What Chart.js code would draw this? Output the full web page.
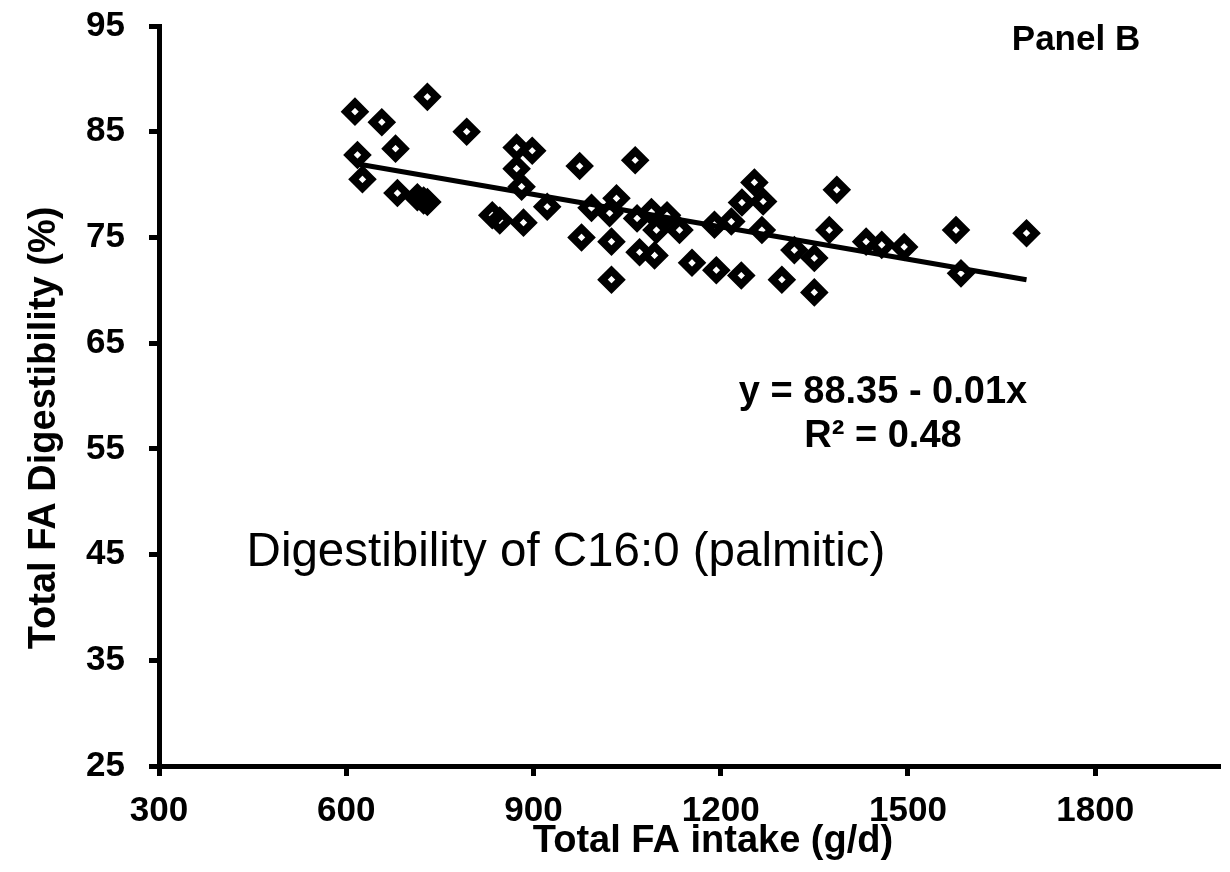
<!DOCTYPE html>
<html>
<head>
<meta charset="utf-8">
<script src="https://cdn.jsdelivr.net/npm/chart.js@4.4.1/dist/chart.umd.min.js"></script>
<style>
  html, body { margin: 0; padding: 0; background: #fff; }
  #wrap { width: 1230px; height: 872px; }
</style>
</head>
<body>
<div id="wrap"><canvas id="chart" width="1230" height="872"></canvas></div>
<script>
// values
const intake = [614, 657, 730, 618, 679, 626, 793, 682, 714, 730, 724, 873, 898, 873, 881,
  834, 846, 884, 922, 974, 977, 1063, 993, 1033, 1022, 1025, 1025, 1066, 1089, 1114,
  1097, 1134, 1070, 1094, 1154, 1193, 1233, 1190, 1217, 1254, 1234, 1268, 1266, 1318,
  1350, 1298, 1350, 1386, 1374, 1433, 1458, 1494, 1577, 1585, 1690];
const digest = [86.9, 85.9, 88.3, 82.8, 83.4, 80.5, 85.0, 79.2, 78.8, 78.35, 78.5, 83.5, 83.2, 81.5, 79.8,
  77.1, 76.6, 76.4, 77.9, 81.75, 75.0, 82.3, 77.8, 78.7, 77.3, 74.6, 71.0, 76.8, 77.4, 77.1,
  75.7, 75.7, 73.6, 73.3, 72.6, 71.9, 71.4, 76.2, 76.5, 80.2, 78.3, 78.4, 75.7, 73.8,
  73.05, 71.0, 69.8, 79.5, 75.7, 74.6, 74.3, 74.1, 75.7, 71.6, 75.4];

// fitted line end points
const trendX = [614, 1690];
const trendY = [82.0, 71.0];

const xTicks = [300, 600, 900, 1200, 1500, 1800];
const yTicks = [25, 35, 45, 55, 65, 75, 85, 95];

const xTitle = 'Total FA intake (g/d)';
const yTitle = 'Total FA Digestibility (%)';
const panelLabel = 'Panel B';
const eqLines = ['y = 88.35 - 0.01x', 'R² = 0.48'];
const caption = 'Digestibility of C16:0 (palmitic)';

const fam = '"Liberation Sans", Arial, sans-serif';

const textPlugin = {
  id: 'texts',
  afterDraw(chart) {
    const ctx = chart.ctx;
    ctx.save();
    ctx.fillStyle = '#000';
    ctx.textAlign = 'center';
    ctx.textBaseline = 'middle';
    ctx.font = 'bold 38px ' + fam;
    ctx.fillText(xTitle, 713, 842);
    ctx.fillText(eqLines[0], 883, 393);
    ctx.fillText(eqLines[1], 883, 437);
    ctx.font = 'bold 35px ' + fam;
    ctx.fillText(panelLabel, 1076, 40);
    ctx.font = '47.5px ' + fam;
    ctx.fillText(caption, 566, 553);
    ctx.translate(45, 428);
    ctx.rotate(-Math.PI / 2);
    ctx.font = 'bold 38px ' + fam;
    ctx.fillText(yTitle, 0, 0);
    ctx.restore();
  }
};

const axisCommon = {
  grid: { drawOnChartArea: false, tickLength: 10, tickWidth: 5, tickColor: '#000' },
  border: { display: true, width: 5, color: '#000' }
};
const tickFont = { family: fam, size: 35, weight: 'bold' };

new Chart(document.getElementById('chart').getContext('2d'), {
  data: {
    datasets: [
      {
        type: 'scatter',
        data: intake.map((x, i) => ({ x, y: digest[i] })),
        pointStyle: 'rectRot',
        pointRadius: 9,
        pointHoverRadius: 9,
        pointBorderWidth: 7.5,
        pointBorderColor: '#000',
        pointBackgroundColor: 'rgba(0,0,0,0)'
      },
      {
        type: 'line',
        data: trendX.map((x, i) => ({ x, y: trendY[i] })),
        borderColor: '#000',
        borderWidth: 5,
        pointRadius: 0,
        fill: false
      }
    ]
  },
  options: {
    responsive: false,
    animation: false,
    devicePixelRatio: 1,
    layout: { autoPadding: false, padding: { top: 26, right: 10, left: 0, bottom: 0 } },
    plugins: { legend: { display: false }, tooltip: { enabled: false } },
    scales: {
      x: {
        type: 'linear',
        min: 300,
        max: 2000,
        ...axisCommon,
        afterBuildTicks: s => { s.ticks = xTicks.map(v => ({ value: v })); },
        afterFit: s => { s.height = 106; s.paddingLeft = 0; s.paddingRight = 0; },
        ticks: { color: '#000', font: tickFont, padding: 14, maxRotation: 0, callback: v => String(v) }
      },
      y: {
        type: 'linear',
        min: 25,
        max: 95,
        ...axisCommon,
        afterBuildTicks: s => { s.ticks = yTicks.map(v => ({ value: v })); },
        afterFit: s => { s.width = 159; s.paddingTop = 0; s.paddingBottom = 0; },
        ticks: { color: '#000', font: tickFont, padding: 24, callback: v => String(v) }
      }
    }
  },
  plugins: [textPlugin]
});
</script>
</body>
</html>
